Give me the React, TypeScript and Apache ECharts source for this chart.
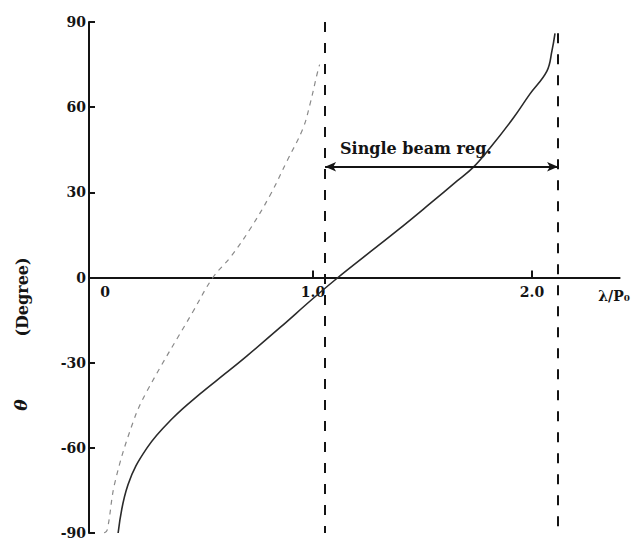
import React, { useEffect, useRef } from "react";
import * as echarts from "echarts";

// Dashed branch: theta (deg) versus lambda / P0
const dashedLambda = [0.046, 0.06, 0.096, 0.178, 0.242, 0.452, 0.543, 0.621, 0.712, 0.804, 0.881, 0.954, 0.986, 1.018, 1.03];
const dashedTheta = [-90, -89, -72, -51, -40, -12, 0, 7, 17, 29, 41, 52.5, 61, 71.5, 75];

// Solid branch: theta (deg) versus lambda / P0
const solidLambda = [0.11, 0.155, 0.242, 0.36, 0.484, 0.6, 0.7, 0.85, 1.0, 1.114, 1.228, 1.384, 1.534, 1.658, 1.73, 1.808, 1.913, 1.99, 2.068, 2.091, 2.105];
const solidTheta = [-90, -73, -60, -49.5, -41, -33.8, -27.5, -17.6, -7.4, 0, 7, 16.5, 26, 34, 38.7, 45.6, 56, 64.6, 72.7, 79.8, 86];

// Axis ticks
const yTickValues = [-90, -60, -30, 0, 30, 60, 90];
const xLabelValues = [0, 1, 2];
const xLabelTexts = ["0", "1.0", "2.0"];
const xTickValues = [1, 2];

// Single-beam region bounds
const regionStart = 1.055;
const regionEnd = 2.119;
const regionArrowTheta = 39;
const regionEndTop = 86;

const FONT = "DejaVu Serif";
const INK = "#141414";

const GRID_TOP = 22;
const GRID_BOTTOM = 7;
const CHART_H = 540;

export default function App() {
  const ref = useRef<HTMLDivElement>(null);

  useEffect(() => {
    if (!ref.current) return;
    const chart = echarts.init(ref.current, undefined, { renderer: "svg" });

    const dashedData = dashedLambda.map((x, i) => [x, dashedTheta[i]]);
    const solidData = solidLambda.map((x, i) => [x, solidTheta[i]]);
    // theta = 0 sits halfway up the plot, so lift the lambda axis there
    const halfHeight = (CHART_H - GRID_TOP - GRID_BOTTOM) / 2;

    chart.setOption({
      animation: false,
      backgroundColor: "#ffffff",
      grid: { left: 89, right: 15.4, top: GRID_TOP, bottom: GRID_BOTTOM, containLabel: false },
      xAxis: {
        type: "value",
        min: -0.023,
        max: 2.4,
        position: "bottom",
        offset: -halfHeight,
        splitLine: { show: false },
        axisLine: { show: true, onZero: false, lineStyle: { color: INK, width: 2 } },
        axisTick: { show: true, inside: true, length: 7, customValues: xTickValues, lineStyle: { color: INK, width: 2 } },
        axisLabel: {
          customValues: xLabelValues,
          margin: 7,
          color: INK,
          fontFamily: FONT,
          fontWeight: "bold",
          fontSize: 14,
          formatter: (v: number) => {
            const i = xLabelValues.indexOf(v);
            if (i === 0) return "{z|" + xLabelTexts[0] + "}";
            return i >= 0 ? xLabelTexts[i] : "";
          },
          rich: {
            z: { padding: [0, 0, 0, 22], fontFamily: FONT, fontWeight: "bold", fontSize: 14, color: INK },
          },
        },
      },
      yAxis: {
        type: "value",
        min: -90,
        max: 90,
        interval: 30,
        splitLine: { show: false },
        axisLine: { show: true, onZero: false, lineStyle: { color: INK, width: 2 } },
        axisTick: { show: true, inside: true, length: 6, customValues: yTickValues, lineStyle: { color: INK, width: 2 } },
        axisLabel: {
          margin: 3,
          color: INK,
          fontFamily: FONT,
          fontWeight: "bold",
          fontSize: 14,
          formatter: (v: number) => String(v),
        },
      },
      series: [
        {
          type: "line",
          data: dashedData,
          showSymbol: false,
          smooth: 0.4,
          lineStyle: { color: "#8a8a8a", width: 1.2, type: [5, 5] },
          z: 3,
        },
        {
          type: "line",
          data: solidData,
          showSymbol: false,
          smooth: 0.4,
          lineStyle: { color: "#2a2a2a", width: 1.6 },
          z: 4,
        },
        {
          type: "line",
          data: [],
          markLine: {
            silent: true,
            symbol: ["none", "none"],
            label: { show: false },
            lineStyle: { color: INK, width: 2, type: [10, 11] },
            data: [
              [{ coord: [regionStart, 90] }, { coord: [regionStart, -90] }],
              [{ coord: [regionEnd, regionEndTop] }, { coord: [regionEnd, -90] }],
            ],
          },
        },
        {
          type: "line",
          data: [],
          markLine: {
            silent: true,
            symbol: ["arrow", "arrow"],
            symbolSize: [7, 11],
            label: { show: false },
            lineStyle: { color: INK, width: 2, type: "solid" },
            data: [[{ coord: [regionStart, regionArrowTheta] }, { coord: [regionEnd, regionArrowTheta] }]],
          },
        },
      ],
      graphic: [
        {
          type: "text",
          x: 340,
          y: 148,
          style: {
            text: "Single beam reg.",
            fill: INK,
            font: `bold 16px "${FONT}"`,
            textAlign: "left",
            textVerticalAlign: "middle",
          },
        },
        {
          type: "text",
          x: 614,
          y: 296,
          style: {
            text: "λ/P₀",
            fill: INK,
            font: `bold 14px "${FONT}"`,
            textAlign: "center",
            textVerticalAlign: "middle",
          },
        },
        {
          type: "text",
          x: 22,
          y: 297,
          rotation: Math.PI / 2,
          style: {
            text: "(Degree)",
            fill: INK,
            font: `bold 16px "${FONT}"`,
            textAlign: "center",
            textVerticalAlign: "middle",
          },
        },
        {
          type: "text",
          x: 21,
          y: 405,
          rotation: Math.PI / 2,
          style: {
            text: "θ",
            fill: INK,
            font: `italic bold 17px "${FONT}"`,
            textAlign: "center",
            textVerticalAlign: "middle",
          },
        },
      ],
    });

    return () => chart.dispose();
  }, []);

  return <div ref={ref} style={{ width: 635, height: 540, position: "absolute", left: 0, top: 0 }} />;
}
